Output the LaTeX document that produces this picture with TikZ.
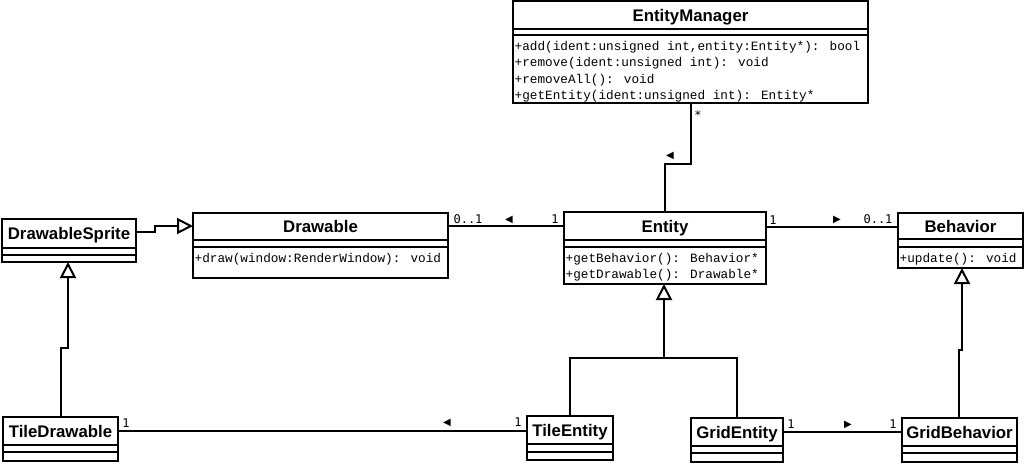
\documentclass[tikz,border=0pt]{standalone}
\usepackage{fontspec}
\setmainfont{Liberation Sans}
\newfontfamily\monofont{Liberation Mono}
\newfontfamily\labelfont{DejaVu Sans Mono}
\newfontfamily\symfont{DejaVu Sans}
\usetikzlibrary{arrows.meta}

\tikzset{
  classbox/.style={draw, line width=2pt, inner sep=0pt, outer sep=0pt},
  boxline/.style={line width=2pt},
  titletext/.style={font=\fontsize{16.8}{18}\selectfont\bfseries, inner sep=0pt, text height=12pt, text depth=0pt},
  methodtext/.style={font=\monofont\fontsize{12.7}{16.3}\selectfont, inner xsep=1.5pt, inner ysep=0pt, align=left, anchor=north west},
  conn/.style={line width=2pt},
  gen/.style={conn, -{Triangle[open, length=16pt, width=16pt]}},
  mult/.style={font=\labelfont\fontsize{12}{13}\selectfont, inner sep=0pt},
  dirmark/.style={font=\symfont\fontsize{10}{11}\selectfont, inner sep=0pt},
}

% #1 name, #2 x1, #3 y1, #4 x2, #5 y2, #6 title bottom, #7 separator, #8 title
\newcommand\umlclass[8]{%
  \node[classbox, minimum width={#4-#2}, minimum height={#5-#3}] (#1) at ({(#2+#4)/2},{(#3+#5)/2}) {};
  \draw[boxline] (#2,#6) -- (#4,#6) (#2,#7) -- (#4,#7);
  \node[titletext] (#1-title) at ({(#2+#4)/2},{(#3+#6)/2}) {#8};
}

\begin{document}
\begin{tikzpicture}[x=1pt, y=-1pt]
\useasboundingbox (0,0) rectangle (1027,464);
\fill[white] (0,0) rectangle (1027,464);

% classes
\umlclass{EntityManager}{513}{1}{868}{103}{29}{35}{EntityManager}
\node[methodtext] (EntityManager-ops) at (513,39) {\strut +add(ident:unsigned int,entity:Entity*): bool\\+remove(ident:unsigned int): void\\+removeAll(): void\\+getEntity(ident:unsigned int): Entity*};

\umlclass{Drawable}{193}{213}{448}{278}{240}{247}{Drawable}
\node[methodtext] (Drawable-ops) at (193,251) {\strut +draw(window:RenderWindow): void};

\umlclass{DrawableSprite}{2}{219}{136}{262}{248}{255}{DrawableSprite}

\umlclass{Entity}{564}{212}{766}{284}{240}{247}{Entity}
\node[methodtext] (Entity-ops) at (564,251) {\strut +getBehavior(): Behavior*\\+getDrawable(): Drawable*};

\umlclass{Behavior}{898}{213}{1023}{268}{239}{247}{Behavior}
\node[methodtext] (Behavior-ops) at (898,251) {\strut +update(): void};

\umlclass{TileDrawable}{3}{417}{118}{461}{445}{452}{TileDrawable}
\umlclass{TileEntity}{527}{416}{613}{460}{444}{452}{TileEntity}
\umlclass{GridEntity}{691}{418}{783}{462}{446}{453}{GridEntity}
\umlclass{GridBehavior}{902}{418}{1017}{462}{446}{453}{GridBehavior}

% EntityManager -- Entity
\coordinate (em1) at (691,164);
\coordinate (em2) at (665,164);
\draw[conn] (EntityManager.south -| em1) -- (em1) -- (em2) -- (Entity.north -| em2);
\node[mult] (m-em) at (698,115) {*};
\node[dirmark] (d-em) at (670,156) {◀};

% Entity -- Drawable
\coordinate (ed) at (0,226);
\draw[conn] (Entity.west |- ed) -- (Drawable.east |- ed);
\node[mult] (m-ed1) at (555,219) {1};
\node[dirmark] (d-ed) at (509,220) {◀};
\node[mult] (m-ed2) at (468,219) {0..1};

% Entity -- Behavior
\coordinate (eb) at (0,227);
\draw[conn] (Entity.east |- eb) -- (Behavior.west |- eb);
\node[mult] (m-eb1) at (773,220) {1};
\node[dirmark] (d-eb) at (837,220) {▶};
\node[mult] (m-eb2) at (878,219) {0..1};

% DrawableSprite -> Drawable
\coordinate (ds1) at (155,232);
\coordinate (ds2) at (155,226);
\draw[gen] (DrawableSprite.east |- ds1) -- (ds1) -- (ds2) -- (Drawable.west |- ds2);

% TileDrawable -> DrawableSprite
\coordinate (td1) at (61,348);
\coordinate (td2) at (68,348);
\draw[gen] (TileDrawable.north -| td1) -- (td1) -- (td2) -- (DrawableSprite.south -| td2);

% TileEntity, GridEntity -> Entity
\coordinate (te1) at (570,358);
\coordinate (te2) at (664,358);
\coordinate (ge1) at (737,358);
\draw[gen] (TileEntity.north -| te1) -- (te1) -- (te2) -- (Entity.south -| te2);
\draw[conn] (GridEntity.north -| ge1) -- (ge1) -- (te2);

% GridBehavior -> Behavior
\coordinate (gb1) at (959,350);
\coordinate (gb2) at (962,350);
\draw[gen] (GridBehavior.north -| gb1) -- (gb1) -- (gb2) -- (Behavior.south -| gb2);

% TileEntity -- TileDrawable
\coordinate (tt) at (0,430.5);
\draw[conn] (TileEntity.west |- tt) -- (TileDrawable.east |- tt);
\node[mult] (m-tt1) at (126,423) {1};
\node[dirmark] (d-tt) at (447,423) {◀};
\node[mult] (m-tt2) at (518,422) {1};

% GridEntity -- GridBehavior
\coordinate (gg) at (0,432);
\draw[conn] (GridEntity.east |- gg) -- (GridBehavior.west |- gg);
\node[mult] (m-gg1) at (791,424) {1};
\node[dirmark] (d-gg) at (848,425) {▶};
\node[mult] (m-gg2) at (893,424) {1};
\end{tikzpicture}
\end{document}
